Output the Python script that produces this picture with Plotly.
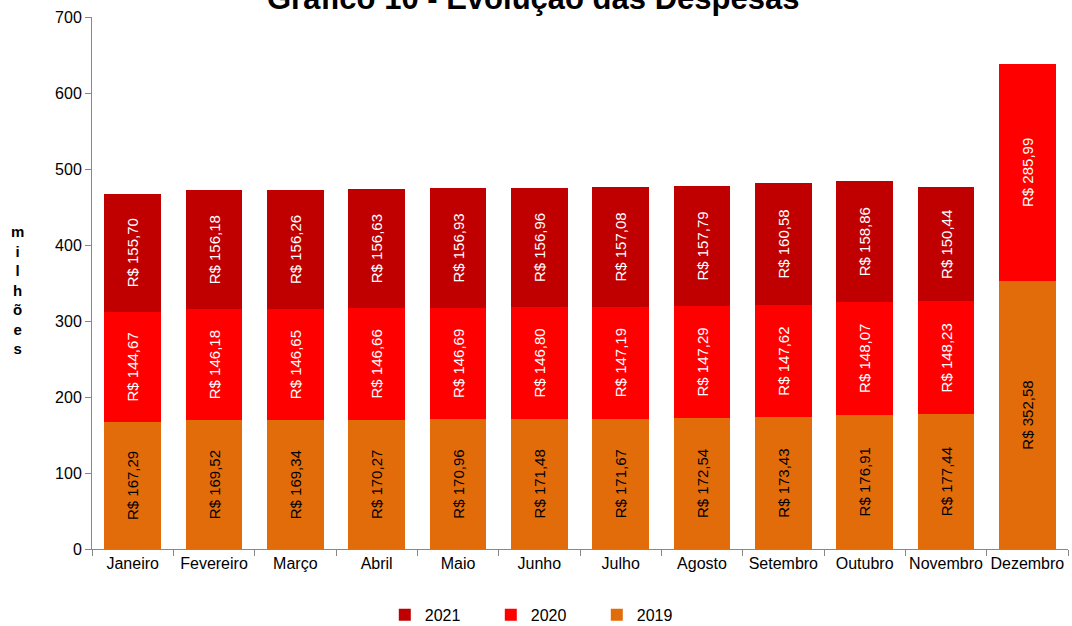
import plotly.graph_objects as go

months = ["Janeiro", "Fevereiro", "Março", "Abril", "Maio", "Junho", "Julho",
          "Agosto", "Setembro", "Outubro", "Novembro", "Dezembro"]
v2019 = [167.29, 169.52, 169.34, 170.27, 170.96, 171.48, 171.67, 172.54, 173.43, 176.91, 177.44, 352.58]
v2020 = [144.67, 146.18, 146.65, 146.66, 146.69, 146.80, 147.19, 147.29, 147.62, 148.07, 148.23, 285.99]
v2021 = [155.70, 156.18, 156.26, 156.63, 156.93, 156.96, 157.08, 157.79, 160.58, 158.86, 150.44, None]
y_ticks = [0, 100, 200, 300, 400, 500, 600, 700]

FONT = "Liberation Sans, Arial, sans-serif"


def fmt(v):
    return "" if v is None else "R$ " + f"{v:.2f}".replace(".", ",")


fig = go.Figure()
series = [("2019", v2019, "#E36C0A", "black"),
          ("2020", v2020, "#FF0000", "white"),
          ("2021", v2021, "#C00000", "white")]
for name, vals, col, tcol in series:
    fig.add_trace(go.Bar(
        x=months, y=vals, name=name,
        marker=dict(color=col, line=dict(width=0)),
        text=[fmt(v) for v in vals], textposition="inside",
        insidetextanchor="middle", textangle=-90,
        textfont=dict(family=FONT, size=15, color=tcol),
        constraintext="none", hoverinfo="skip",
    ))

fig.update_layout(
    barmode="stack", bargap=0.3,
    width=1072, height=626,
    margin=dict(l=92, r=4, t=17, b=77, autoexpand=False),
    paper_bgcolor="white", plot_bgcolor="white",
    font=dict(family=FONT, size=16, color="black"),
    showlegend=True,
    legend=dict(orientation="h", x=0.30, xanchor="left",
                yref="container", y=0.018, yanchor="middle",
                traceorder="reversed", entrywidth=61, entrywidthmode="pixels",
                font=dict(size=16), itemwidth=30),
)
fig.update_xaxes(
    type="category", showline=True, linecolor="#888888", linewidth=1,
    ticks="outside", tickson="boundaries", ticklen=6, tickcolor="#888888",
    tickfont=dict(size=16), tickangle=0, showgrid=False, automargin=False,
)
fig.update_yaxes(
    range=[0, 700], tickvals=y_ticks, showline=True, linecolor="#888888", linewidth=1,
    ticks="outside", ticklen=6, tickcolor="#888888", tickfont=dict(size=16),
    showgrid=False, zeroline=False, automargin=False,
)
fig.add_annotation(
    text="<b>Gráfico 10 - Evolução das Despesas</b>", xref="paper", yref="paper",
    x=0.452, y=1.034, xanchor="center", yanchor="middle", showarrow=False,
    font=dict(size=31, family=FONT),
)
fig.add_annotation(
    text="<b>m<br>i<br>l<br>h<br>õ<br>e<br>s</b>", xref="paper", yref="paper",
    x=-0.076, y=0.487, xanchor="center", yanchor="middle", showarrow=False,
    font=dict(size=15, family=FONT),
)
fig.write_html("out.html", config={"displayModeBar": False},
               post_script="document.body.style.margin='0';document.body.style.overflow='hidden';")
